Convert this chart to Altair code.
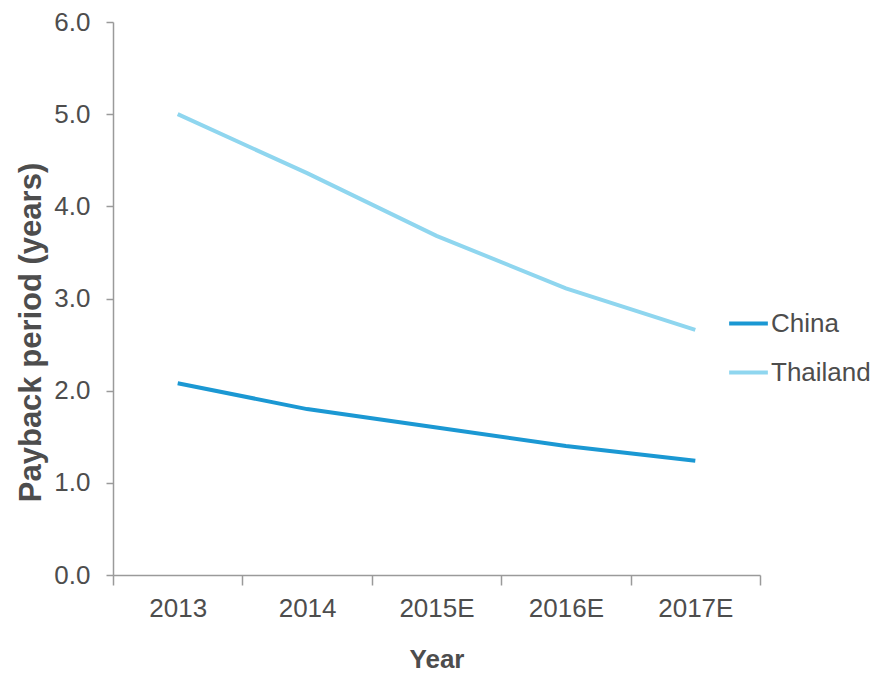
import altair as alt
import pandas as pd

years = ["2013", "2014", "2015E", "2016E", "2017E"]
china = [2.08, 1.80, 1.60, 1.40, 1.24]
thailand = [5.00, 4.36, 3.68, 3.11, 2.66]
series_names = ["China", "Thailand"]
series_colors = ["#1b98d3", "#8fd6ef"]
y_ticks = [0, 1, 2, 3, 4, 5, 6]

rows = []
for name, vals in zip(series_names, [china, thailand]):
    for yr, v in zip(years, vals):
        rows.append({"Year": yr, "Series": name, "Value": v})
df = pd.DataFrame(rows)

TEXT = "#4d4d4d"
AXIS = "#9a9a9a"
FONT = "Liberation Sans, Arial, sans-serif"

chart = alt.Chart(df).mark_line(strokeWidth=4).encode(
    x=alt.X("Year:N", sort=years,
            scale=alt.Scale(type="band", paddingInner=0, paddingOuter=0),
            axis=alt.Axis(title="Year", labelAngle=0, tickBand="extent",
                          tickSize=10, labelPadding=10, labelFontSize=26,
                          titleFontSize=26, titleFontWeight="bold",
                          titleBaseline="alphabetic", titleY=92,
                          labelFont=FONT, titleFont=FONT)),
    y=alt.Y("Value:Q", scale=alt.Scale(domain=[0, 6], nice=False),
            axis=alt.Axis(title="Payback period (years)", values=y_ticks,
                          format=".1f", tickSize=7, labelPadding=16,
                          labelFontSize=26, labelFont=FONT,
                          titleFont=FONT,
                          titleFontSize=31, titleFontWeight="bold",
                          titleBaseline="alphabetic", titleX=-73, titleY=310,
                          grid=False)),
    color=alt.Color("Series:N", sort=series_names,
                    scale=alt.Scale(domain=series_names, range=series_colors),
                    legend=alt.Legend(title=None, orient="none", legendX=614,
                                      legendY=280, symbolType="stroke",
                                      symbolSize=1500, symbolStrokeWidth=4,
                                      labelFontSize=26, labelFont=FONT,
                                      labelColor=TEXT, labelOffset=1,
                                      rowPadding=14)),
).properties(
    width=647, height=553,
    padding={"left": 113, "top": 22, "right": 123, "bottom": 98},
    autosize=alt.AutoSizeParams(type="none"),
).configure_view(stroke=None).configure_axis(
    domainColor=AXIS, tickColor=AXIS, labelColor=TEXT, titleColor=TEXT,
    domainWidth=1.5, tickWidth=1.5,
)

chart.save("out.html", embed_options={"renderer": "svg", "actions": False})
